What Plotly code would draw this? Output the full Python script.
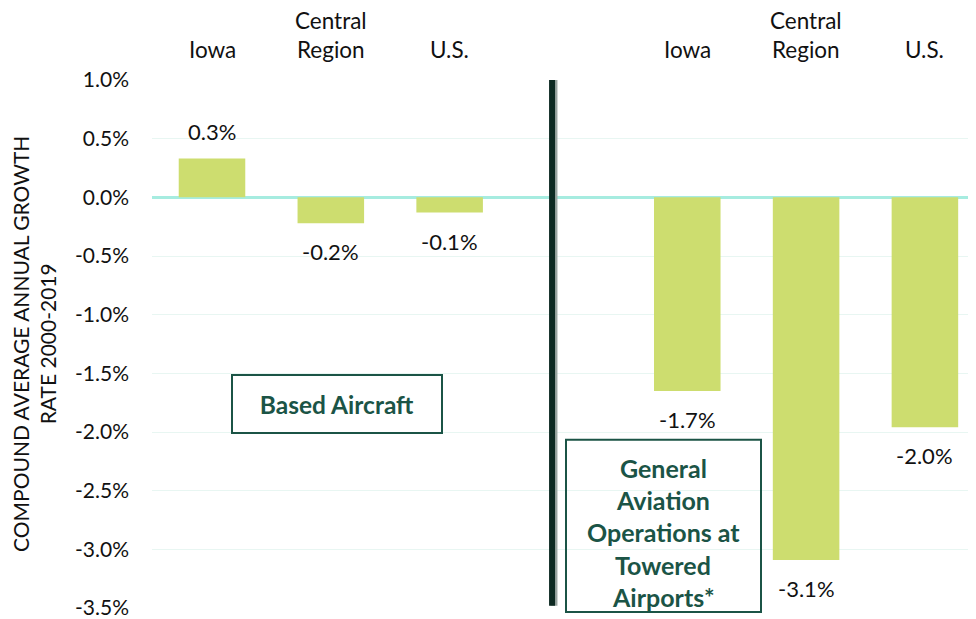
import plotly.graph_objects as go

categories = ["Iowa", "Central<br>Region", "U.S.", "Iowa", "Central<br>Region", "U.S."]
x_pos = [0, 1, 2, 4, 5, 6]
values = [0.33, -0.22, -0.13, -1.65, -3.09, -1.96]
labels = ["0.3%", "-0.2%", "-0.1%", "-1.7%", "-3.1%", "-2.0%"]
y_ticks = [1.0, 0.5, 0.0, -0.5, -1.0, -1.5, -2.0, -2.5, -3.0, -3.5]
y_ticktext = ["1.0%", "0.5%", "0.0%", "-0.5%", "-1.0%", "-1.5%", "-2.0%", "-2.5%", "-3.0%", "-3.5%"]
box1_text = "Based Aircraft"
box2_lines = ["General", "Aviation", "Operations at", "Towered", "Airports*"]

FONT = "Lato, Carlito, Calibri, sans-serif"
BAR = "#cddd6f"
DARK = "#1b5446"

# page body has an 8px margin; figure is sized/offset to compensate
OFF = 8
W, H = 976 - OFF, 619 - OFF
L, T = 152 - OFF, 80 - OFF
PW, PH = W - L, 530


def px(sx):
    return (sx - OFF - L) / PW


def py(sy):
    return 1 - (sy - OFF - T) / PH


fig = go.Figure()
fig.add_trace(go.Bar(x=x_pos, y=values, marker=dict(color=BAR, line=dict(width=0)),
                     width=0.56, hoverinfo="skip"))

ann = []
for xp, v, t in zip(x_pos, values, labels):
    ann.append(dict(x=xp, y=v, xref="x", yref="y", text=t, showarrow=False,
                    yanchor="bottom" if v >= 0 else "top",
                    yshift=12 if v >= 0 else -13,
                    font=dict(family=FONT, size=22, color="#111111")))
for xp, c in zip(x_pos, categories):
    ann.append(dict(x=xp, y=1, xref="x", yref="paper", text=c, showarrow=False,
                    yanchor="bottom", yshift=15,
                    font=dict(family=FONT, size=22.5, color="#111111")))
ann.append(dict(x=px(34), y=py(345), xref="paper", yref="paper", textangle=-90,
                xanchor="center", yanchor="middle",
                text="COMPOUND AVERAGE ANNUAL GROWTH<br>RATE 2000-2019", showarrow=False,
                font=dict(family=FONT, size=21, color="#111111")))
# Box 1
ann.append(dict(x=1.05, y=-1.76, xref="x", yref="y", text="<b>%s</b>" % box1_text,
                xanchor="center", yanchor="middle",
                showarrow=False, width=206, height=54, bordercolor=DARK, borderwidth=2,
                bgcolor="white", font=dict(family=FONT, size=24.5, color=DARK)))
# Box 2 lines
line_ys = [469, 502, 534, 567, 599]
for ln, ly in zip(box2_lines, line_ys):
    ann.append(dict(x=px(663), y=py(ly), xref="paper", yref="paper",
                    xanchor="center", yanchor="middle",
                    text="<b>%s</b>" % ln, showarrow=False,
                    font=dict(family=FONT, size=25, color=DARK)))

shapes = [
    dict(type="rect", xref="paper", yref="paper",
         x0=px(566), x1=px(761), y0=py(614), y1=py(441),
         line=dict(color=DARK, width=2), fillcolor="rgba(0,0,0,0)"),
    dict(type="line", xref="x", yref="y", x0=2.878, x1=2.878, y0=-3.48, y1=1.01,
         line=dict(color="#9aa5a1", width=7)),
    dict(type="line", xref="x", yref="y", x0=2.862, x1=2.862, y0=-3.48, y1=1.01,
         line=dict(color="#0d2a22", width=6)),
]

fig.update_layout(
    width=W, height=H,
    margin=dict(l=L, r=0, t=T, b=H - T - PH),
    paper_bgcolor="white", plot_bgcolor="white",
    showlegend=False,
    annotations=ann, shapes=shapes,
    xaxis=dict(range=[-0.505, 6.43], showticklabels=False, showgrid=False,
               zeroline=False, showline=False, fixedrange=True),
    yaxis=dict(range=[-3.5, 1.0], tickvals=y_ticks, ticktext=y_ticktext,
               gridcolor="#e8f6f2", gridwidth=1,
               zeroline=True, zerolinecolor="#a6ece0", zerolinewidth=3,
               showline=False, ticks="", ticklabelstandoff=22,
               ticklabeloverflow="allow",
               tickfont=dict(family=FONT, size=21, color="#111111")),
)

fig.write_html("out.html")
